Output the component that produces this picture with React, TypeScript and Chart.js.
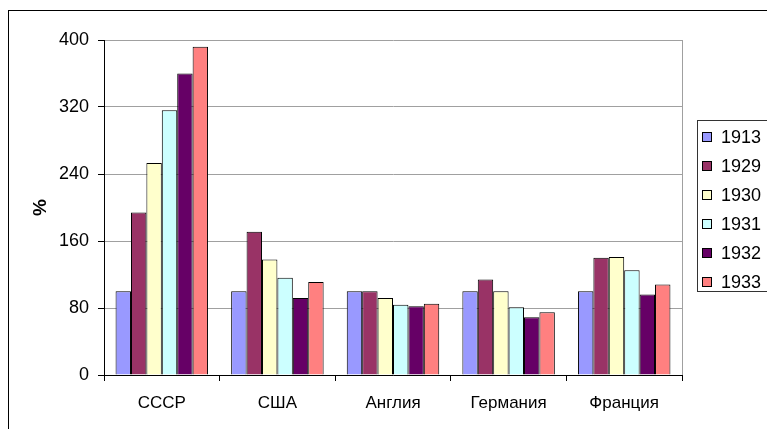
import React, { useEffect, useRef } from "react";
import { Chart, registerables } from "chart.js";

Chart.register(...registerables);

const categories = ["СССР", "США", "Англия", "Германия", "Франция"];
const years = ["1913", "1929", "1930", "1931", "1932", "1933"];
const values1913 = [100, 100, 100, 100, 100];
const values1929 = [194, 171, 100, 114, 140];
const values1930 = [253, 138, 92, 100, 141];
const values1931 = [316, 116, 84, 81, 125];
const values1932 = [360, 92, 82, 69, 96];
const values1933 = [392, 111, 85, 75, 108];
const seriesValues = [values1913, values1929, values1930, values1931, values1932, values1933];
const seriesColors = ["#9999FF", "#993366", "#FFFFCC", "#CCFFFF", "#660066", "#FF8080"];
const yTicks = [0, 80, 160, 240, 320, 400];

const FONT = "'Liberation Sans', Arial, sans-serif";

const framePlugin = {
  id: "frame",
  beforeDraw(chart: any) {
    const ctx = chart.ctx;
    ctx.save();
    ctx.fillStyle = "#ffffff";
    ctx.fillRect(0, 0, chart.width, chart.height);
    ctx.strokeStyle = "#000000";
    ctx.lineWidth = 1;
    ctx.strokeRect(8.5, 10.5, 900, 600);
    ctx.restore();
  },
  afterDatasetsDraw(chart: any) {
    const ctx = chart.ctx;
    const a = chart.chartArea;
    ctx.save();
    ctx.strokeStyle = "#a0a0a0";
    ctx.lineWidth = 1;
    ctx.beginPath();
    ctx.moveTo(Math.round(a.right) + 0.5, a.top);
    ctx.lineTo(Math.round(a.right) + 0.5, a.bottom);
    ctx.stroke();
    ctx.restore();
  },
  afterDraw(chart: any) {
    const ctx = chart.ctx;
    ctx.save();
    ctx.strokeStyle = "#333333";
    ctx.lineWidth = 1;
    ctx.strokeRect(697.5, 120.5, 120, 171);
    const ds = chart.data.datasets;
    ctx.font = "18px " + FONT;
    ctx.textBaseline = "middle";
    ctx.textAlign = "left";
    for (let i = 0; i < ds.length; i++) {
      const cy = 137 + i * 29;
      ctx.fillStyle = ds[i].backgroundColor;
      ctx.fillRect(702.5, cy - 4.5, 9, 9);
      ctx.strokeStyle = "#000000";
      ctx.strokeRect(702.5, cy - 4.5, 9, 9);
      ctx.fillStyle = "#000000";
      ctx.fillText(ds[i].label, 721, cy + 1);
    }
    ctx.restore();
  },
};

export default function App() {
  const ref = useRef<HTMLCanvasElement>(null);
  useEffect(() => {
    if (!ref.current) return;
    const chart = new Chart(ref.current, {
      type: "bar",
      data: {
        labels: categories,
        datasets: years.map((y, i) => ({
          label: y,
          data: seriesValues[i],
          backgroundColor: seriesColors[i],
          borderColor: "#000000",
          borderWidth: 1,
          categoryPercentage: 0.8,
          barPercentage: 1.0,
        })),
      },
      options: {
        responsive: false,
        maintainAspectRatio: false,
        animation: false,
        devicePixelRatio: 1,
        layout: { padding: { left: 0, right: 85, top: 40, bottom: 0 } },
        plugins: {
          legend: { display: false },
          tooltip: { enabled: false },
        },
        scales: {
          x: {
            offset: true,
            grid: {
              display: true,
              drawOnChartArea: false,
              drawTicks: true,
              tickLength: 6,
              tickColor: "#000000",
              offset: true,
            },
            border: { display: true, color: "#000000", width: 1 },
            ticks: {
              color: "#000000",
              font: { family: FONT, size: 17 },
              padding: 12,
              maxRotation: 0,
              autoSkip: false,
            },
            afterFit: (s: any) => {
              s.height = 54;
            },
          },
          y: {
            min: 0,
            max: 400,
            afterBuildTicks: (s: any) => {
              s.ticks = yTicks.map((v) => ({ value: v }));
            },
            grid: {
              color: "#a0a0a0",
              drawTicks: true,
              tickLength: 6,
              tickColor: "#000000",
            },
            border: { display: true, color: "#000000", width: 1 },
            ticks: {
              color: "#000000",
              font: { family: FONT, size: 18 },
              padding: 9,
            },
            title: {
              display: true,
              text: "%",
              color: "#000000",
              font: { family: FONT, size: 19, weight: "bold" },
              padding: { top: 29, bottom: 0 },
            },
            afterFit: (s: any) => {
              s.width = 104;
            },
          },
        },
      },
      plugins: [framePlugin],
    });
    return () => chart.destroy();
  }, []);
  return (
    <div style={{ position: "absolute", left: 0, top: 0, width: 767, height: 429, overflow: "hidden" }}>
      <canvas ref={ref} width={767} height={429} style={{ display: "block" }} />
    </div>
  );
}
